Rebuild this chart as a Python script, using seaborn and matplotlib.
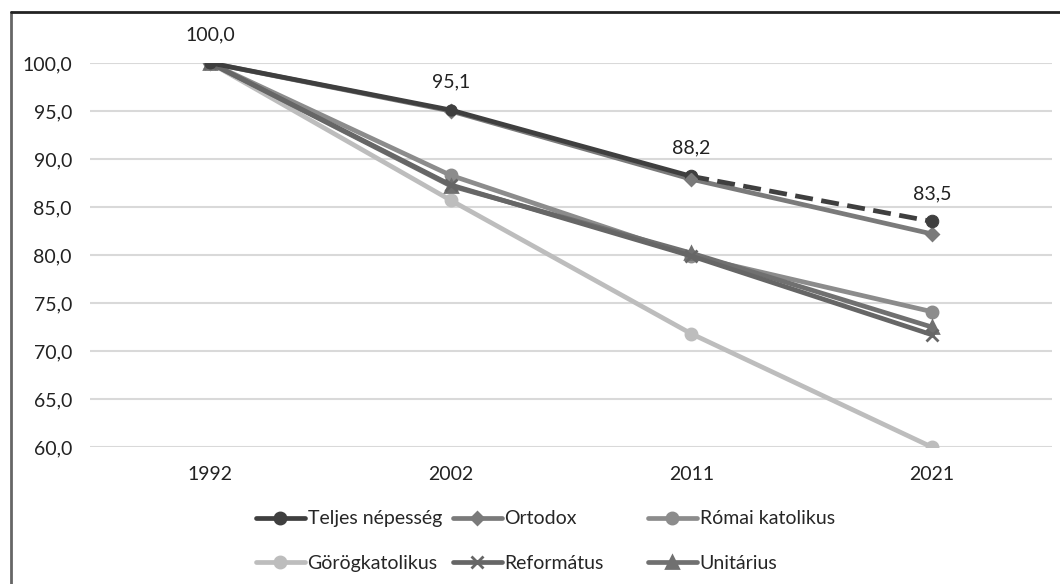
import matplotlib
matplotlib.use('Agg')
import matplotlib.pyplot as plt
from matplotlib.lines import Line2D
from matplotlib.ticker import FuncFormatter
import seaborn as sns

years = ['1992', '2002', '2011', '2021']

teljes = [100.0, 95.1, 88.2, 83.5]
ortodox = [100.0, 95.0, 87.9, 82.2]
romai = [100.0, 88.3, 79.9, 74.1]
gorog = [100.0, 85.7, 71.8, 60.0]
reformatus = [100.0, 87.3, 79.9, 71.7]
unitarius = [100.0, 87.2, 80.2, 72.5]

sns.set_theme(style='white')
plt.rcParams['font.family'] = ['Lato', 'DejaVu Sans']

fs = 14
fig = plt.figure(figsize=(10.6, 5.84), dpi=100)
ax = fig.add_axes([90 / 1060, 1 - 447 / 584, 962 / 1060, 384 / 584])

# grey styling like the original
styles = {
    'Ortodox': dict(color='#7a7a7a', marker='D', ms=6),
    'Római katolikus': dict(color='#8c8c8c', marker='o', ms=8),
    'Görögkatolikus': dict(color='#bdbdbd', marker='o', ms=8),
    'Református': dict(color='#666666', marker='x', ms=8),
    'Unitárius': dict(color='#707070', marker='^', ms=8),
}
series = {'Ortodox': ortodox, 'Római katolikus': romai, 'Görögkatolikus': gorog,
          'Református': reformatus, 'Unitárius': unitarius}

lw = 3.4
for name in ['Görögkatolikus', 'Római katolikus', 'Unitárius', 'Református', 'Ortodox']:
    st = styles[name]
    sns.lineplot(x=years, y=series[name], color=st['color'], marker=st['marker'],
                 markersize=st['ms'], markeredgecolor=st['color'], markeredgewidth=2,
                 linewidth=lw, ax=ax, sort=False)

dark = '#3f3f3f'
sns.lineplot(x=years[:3], y=teljes[:3], color=dark, marker='o', markersize=8,
             markeredgecolor=dark, linewidth=lw, ax=ax, sort=False)
sns.lineplot(x=years[2:], y=teljes[2:], color=dark, marker='o', markersize=9,
             markeredgecolor=dark, linewidth=lw, linestyle=(0, (3.8, 1.8)), ax=ax, sort=False)
# ortodox marker at 2011 sits on top in the source
ax.plot(years[2:3], ortodox[2:3], marker='D', ms=6, color='#7a7a7a', ls='none')

for i, v in enumerate(teljes):
    ax.annotate(f'{v:.1f}'.replace('.', ','), (i, v), xytext=(0, 14),
                textcoords='offset points', ha='center', va='bottom', fontsize=fs, color='#222222')

ax.set_ylim(60, 100)
ax.set_xlim(-0.5, 3.5)
ax.set_yticks(range(60, 101, 5))
ax.yaxis.set_major_formatter(FuncFormatter(lambda v, p: f'{v:.1f}'.replace('.', ',')))
ax.grid(axis='y', color='#d9d9d9', linewidth=1.5)
ax.set_axisbelow(True)
sns.despine(ax=ax, left=True, bottom=True)
ax.tick_params(axis='both', length=0, labelsize=fs, labelcolor='#222222')
ax.tick_params(axis='x', pad=14)
ax.tick_params(axis='y', pad=13)
ax.set_xlabel('')
ax.set_ylabel('')

def handle(color, marker, ms, ls='-'):
    return Line2D([], [], color=color, marker=marker, markersize=ms, linewidth=lw,
                  markeredgecolor=color, markeredgewidth=2, linestyle=ls)

h = {'Teljes népesség': handle(dark, 'o', 8)}
for name in series:
    st = styles[name]
    h[name] = handle(st['color'], st['marker'], st['ms'])

# Excel-like legend: three equal-width columns
cols = [(256, ['Teljes népesség', 'Görögkatolikus']),
        (453, ['Ortodox', 'Református']),
        (648, ['Római katolikus', 'Unitárius'])]
for x0, labels in cols:
    leg = fig.legend([h[n] for n in labels], labels, loc='center left',
                     bbox_to_anchor=(x0 / 1060, 1 - 541 / 584), frameon=False,
                     fontsize=fs, handlelength=2.5, handletextpad=0.15,
                     labelspacing=1.4, borderpad=0, borderaxespad=0)

# frame lines (left and top only)
fig.add_artist(Line2D([11 / 1060, 11 / 1060], [0, 1 - 12 / 584], transform=fig.transFigure,
                      color='#666666', linewidth=2))
fig.add_artist(Line2D([11 / 1060, 1], [1 - 12 / 584, 1 - 12 / 584], transform=fig.transFigure,
                      color='#222222', linewidth=2))

fig.savefig('out.png', dpi=100, facecolor='white')
